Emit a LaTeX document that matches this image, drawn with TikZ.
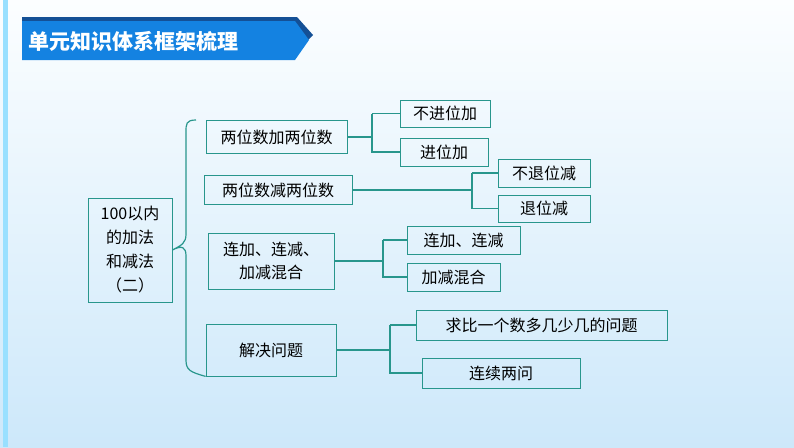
\documentclass[tikz,border=0pt]{standalone}
\usepackage{fontspec}
\setmainfont{Noto Sans CJK SC}
\definecolor{teal1}{RGB}{40,150,140}
\definecolor{bgtop}{RGB}{252,254,255}
\definecolor{bgbot}{RGB}{205,232,250}
\definecolor{banner}{RGB}{20,130,225}
\definecolor{bannerd}{RGB}{20,80,150}
\begin{document}
\begin{tikzpicture}[x=1pt,y=-1pt,
  bx/.style={draw=teal1,line width=0.8pt,inner sep=0pt,font=\fontsize{16}{20}\selectfont},
  ln/.style={draw=teal1,line width=1.2pt}]
\useasboundingbox (0,0) rectangle (794,447);
\shade[top color=bgtop,bottom color=bgbot] (0,0) rectangle (794,447);
\fill[blue!30!cyan!40] (3,0) rectangle (8,447);
% banner
\fill[bannerd] (22,17) -- (297,17) -- (313,35) -- (305,43) -- (22,43) -- cycle;
\fill[banner] (22,21) -- (295,21) -- (309,40) -- (295,60) -- (22,60) -- cycle;
\node[anchor=west,text=white,font=\fontsize{21}{24}\selectfont\bfseries] (title) at (25,41) {单元知识体系框架梳理};
% nodes
\node[bx,minimum width=84,minimum height=104,align=center,font=\fontsize{16}{24}\selectfont] (m) at (130,250) {100以内\\的加法\\和减法\\（二）};
\node[bx,minimum width=141,minimum height=33] (b1) at (276.5,137) {两位数加两位数};
\node[bx,minimum width=148,minimum height=29] (b2) at (278,190) {两位数减两位数};
\node[bx,minimum width=126,minimum height=56,align=center,font=\fontsize{16}{23}\selectfont] (b3) at (271,261) {连加、连减、\\加减混合};
\node[bx,minimum width=130,minimum height=52] (b4) at (271,350) {解决问题};
\node[bx,minimum width=90,minimum height=27] (l1) at (445,113.5) {不进位加};
\node[bx,minimum width=88,minimum height=28] (l2) at (444,152) {进位加};
\node[bx,minimum width=92,minimum height=28] (l3) at (544,173) {不退位减};
\node[bx,minimum width=92,minimum height=27] (l4) at (544,208.5) {退位减};
\node[bx,minimum width=113,minimum height=28] (l5) at (463.5,240) {连加、连减};
\node[bx,minimum width=93,minimum height=28] (l6) at (453.5,277) {加减混合};
\node[bx,minimum width=251,minimum height=30] (l7) at (541.5,325) {求比一个数多几少几的问题};
\node[bx,minimum width=158,minimum height=30] (l8) at (501,373) {连续两问};
% brace
\draw[ln] (196,120) .. controls (186,120) and (186,124) .. (186,132) -- (186,234)
  .. controls (186,243) and (182,245) .. (m.east)
  (m.east) .. controls (182,245) and (186,247) .. (186,256) -- (186,360)
  .. controls (186,370) and (190,372) .. (b4.south west);
% connectors
\draw[ln] (b1.east) -- (b1.east -| 372,0) (372,113.5) -- (l1.west) (372,113.5) -- (372,152) -- (l2.west);
\draw[ln] (b2.east) -- (b2.east -| 472,0) (472,173) -- (l3.west) (472,173) -- (472,208.5) -- (l4.west);
\draw[ln] (b3.east) -- (b3.east -| 383,0) (383,240) -- (l5.west) (383,240) -- (383,277) -- (l6.west);
\draw[ln] (b4.east) -- (b4.east -| 390,0) (390,325) -- (l7.west) (390,325) -- (390,373) -- (l8.west);
\end{tikzpicture}
\end{document}
